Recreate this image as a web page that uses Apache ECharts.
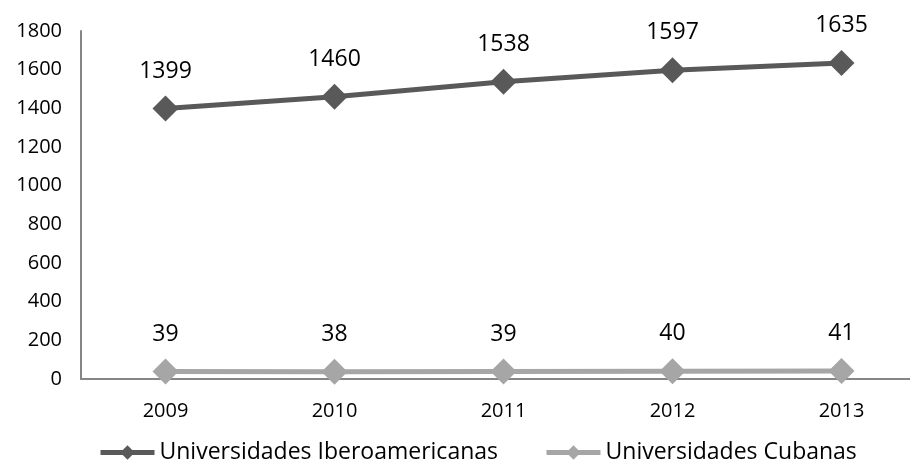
<!DOCTYPE html>
<html><head><meta charset="utf-8">
<script src="https://cdn.jsdelivr.net/npm/echarts@6/dist/echarts.min.js"></script>
<style>html,body{margin:0;padding:0;background:#fff}#c{width:910px;height:475px}</style>
</head><body><div id="c"></div>
<script>
var categories = ['2009','2010','2011','2012','2013'];
var ibero = [1399,1460,1538,1597,1635];
var cubanas = [39,38,39,40,41];
var yTicks = [0,200,400,600,800,1000,1200,1400,1600,1800];
var font = 'Open Sans';
var chart = echarts.init(document.getElementById('c'));
function mkSeries(name, data, color){
  return {
    name: name, type: 'line', data: data,
    symbol: 'diamond', symbolSize: 26,
    lineStyle: {color: color, width: 5},
    itemStyle: {color: color},
    label: {show: true, position: 'top', distance: 13, color: '#000', fontSize: 23, fontFamily: font},
    animation: false
  };
}
chart.setOption({
  animation: false,
  grid: {left: 81, top: 31, width: 845, height: 348, containLabel: false, outerBoundsMode: 'none'},
  legend: {
    bottom: 6, left: 93, itemWidth: 54, itemHeight: 18, itemGap: 46,
    textStyle: {fontSize: 23, fontFamily: font, color: '#000'},
    lineStyle: {width: 5},
    data: ['Universidades Iberoamericanas','Universidades Cubanas']
  },
  xAxis: {
    type: 'category', data: categories, boundaryGap: true,
    axisLine: {lineStyle: {color: '#868686', width: 2}},
    axisTick: {show: false},
    axisLabel: {fontSize: 20, fontFamily: font, color: '#000', margin: 22}
  },
  yAxis: {
    type: 'value', min: 0, max: 1800, interval: 200,
    axisLine: {show: true, lineStyle: {color: '#868686', width: 2}},
    axisTick: {show: false},
    splitLine: {show: false},
    axisLabel: {fontSize: 20, fontFamily: font, color: '#000', margin: 19,
      formatter: function(v){ return yTicks.indexOf(v) >= 0 ? String(v) : ''; }}
  },
  series: [
    mkSeries('Universidades Iberoamericanas', ibero, '#595959'),
    mkSeries('Universidades Cubanas', cubanas, '#a6a6a6')
  ]
});
</script></body></html>
